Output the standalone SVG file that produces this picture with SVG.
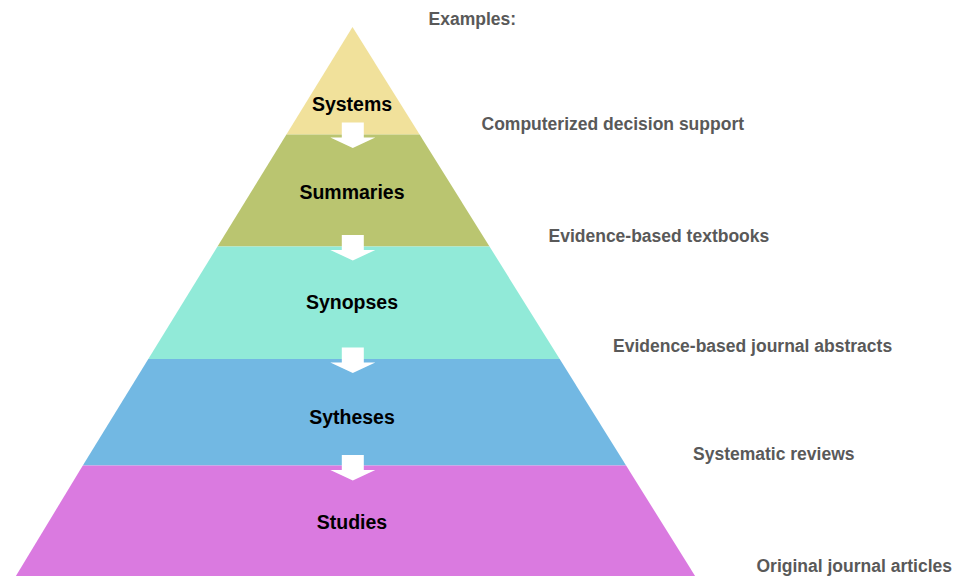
<svg xmlns="http://www.w3.org/2000/svg" xmlns:xlink="http://www.w3.org/1999/xlink" width="953" height="576" viewBox="0 0 953 576">
  <style>
    .lvl { font-family: "Liberation Sans", Arial, sans-serif; font-weight: bold; font-size: 19.5px; fill: #000000; text-anchor: middle; }
    .ex { font-family: "Liberation Sans", Arial, sans-serif; font-weight: bold; font-size: 17.5px; fill: #595959; }
    .arrow { fill: #FFFFFF; stroke: none; }
  </style>
  <defs>
    <path id="down" d="M-11,0 H11 V15 H22.5 L0,25.5 L-22.5,15 H-11 Z"/>
  </defs>
  <rect x="0" y="0" width="953" height="576" fill="#FFFFFF"/>

  <g id="systems">
    <polygon points="352.5,27 419.6,134.5 286.4,134.5" fill="#F1E19B"/>
    <text class="lvl" x="352" y="111">Systems</text>
  </g>
  <g id="summaries">
    <polygon points="286.4,134.5 419.6,134.5 489.5,246.5 217.5,246.5" fill="#BAC570"/>
    <text class="lvl" x="352" y="198.5">Summaries</text>
  </g>
  <g id="synopses">
    <polygon points="217.5,246.5 489.5,246.5 559.7,359 148.3,359" fill="#91EAD8"/>
    <text class="lvl" x="352" y="309">Synopses</text>
  </g>
  <g id="sytheses">
    <polygon points="148.3,359 559.7,359 626.1,465.5 82.8,465.5" fill="#72B8E3"/>
    <text class="lvl" x="352" y="423.5">Sytheses</text>
  </g>
  <g id="studies">
    <polygon points="82.8,465.5 626.1,465.5 695.1,576 15.9,576" fill="#DA7AE0"/>
    <text class="lvl" x="352" y="528.5">Studies</text>
  </g>

  <g id="connectors" class="arrow">
    <use xlink:href="#down" href="#down" x="352.8" y="122.5"/>
    <use xlink:href="#down" href="#down" x="352.8" y="235"/>
    <use xlink:href="#down" href="#down" x="352.8" y="347.5"/>
    <use xlink:href="#down" href="#down" x="352.8" y="455"/>
  </g>

  <g id="examples">
    <text class="ex" x="428.5" y="25">Examples:</text>
    <text class="ex" x="481.5" y="130">Computerized decision support</text>
    <text class="ex" x="548.5" y="241.5">Evidence-based textbooks</text>
    <text class="ex" x="613" y="352">Evidence-based journal abstracts</text>
    <text class="ex" x="693" y="459.5">Systematic reviews</text>
    <text class="ex" x="756.5" y="572">Original journal articles</text>
  </g>
</svg>
